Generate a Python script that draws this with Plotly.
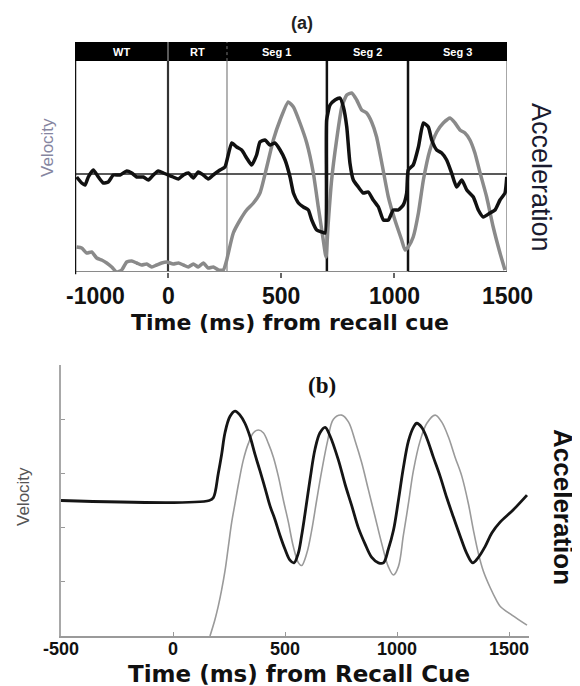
import plotly.graph_objects as go

# page body margin offsets the figure by 8px; figure is sized to fit the window
OFF = 8
W, H = 580 - OFF, 686 - OFF

# ---------------- Panel (a) data (time in ms from recall cue) ----------------
A_ACC_T = [-982, -928, -892, -857, -803, -749, -695, -642, -588, -516,
           -444, -390, -337, -265, -211, -158, -104, -50, 1, 23,
           46, 68, 90, 112, 134, 156, 178, 200, 230, 252,
           282, 304, 326, 348, 370, 392, 407, 429, 451, 473,
           496, 518, 540, 555, 577, 599, 621, 636, 658, 680,
           695, 702, 717, 739, 761, 776, 791, 805, 820, 842,
           864, 886, 908, 931, 953, 975, 997, 1019, 1041, 1056,
           1063, 1085, 1108, 1130, 1152, 1167, 1189, 1211, 1233, 1255,
           1277, 1300, 1322, 1351, 1373, 1395, 1425, 1447, 1469, 1491, 1499]
A_ACC_V = [-3, -9, -11, -3, 4, -3, -9, -8, -1, -1,
           3, 1, -3, -3, -6, -1, 3, 1, -1, -3,
           -5, -1, 1, -4, 2, -1, -5, -1, 4, 7,
           31, 27, 24, 16, 9, 19, 32, 34, 29, 31,
           24, 14, -3, -19, -29, -33, -36, -46, -56, -58,
           -59, 54, 69, 74, 76, 67, 47, 11, -6, -13,
           -19, -18, -26, -33, -46, -46, -36, -36, -31, -19,
           4, 9, 27, 51, 47, 34, 24, 21, 14, 1,
           -13, -6, -16, -23, -36, -43, -39, -36, -26, -19, -3]

A_VEL_T = [-982, -928, -874, -820, -767, -713, -659, -605, -552, -498,
           -444, -390, -337, -283, -229, -175, -122, -68, -14, 23,
           46, 68, 90, 112, 134, 156, 178, 200, 223, 245,
           260, 267, 289, 319, 348, 378, 407, 437, 466, 496,
           532, 555, 584, 614, 643, 665, 687, 699, 709, 724,
           746, 769, 791, 813, 835, 857, 879, 901, 923, 946,
           975, 1004, 1034, 1049, 1063, 1085, 1108, 1130, 1159, 1189,
           1218, 1248, 1270, 1292, 1314, 1336, 1358, 1381, 1410, 1439,
           1469, 1491]
A_VEL_V = [25, 24, 19, 20, 14, 12, 9, 5, 0, 2,
           10, 11, 9, 7, 8, 5, 7, 9, 10, 8,
           9, 7, 5, 8, 5, 9, 4, 5, 2, 2,
           12, 19, 39, 52, 62, 69, 79, 105, 132, 152,
           170, 165, 149, 129, 99, 65, 32, 15, 49, 92,
           132, 165, 177, 179, 172, 162, 159, 150, 135, 109,
           75, 52, 32, 22, 25, 35, 59, 92, 122, 140,
           149, 154, 149, 142, 139, 132, 119, 99, 75, 45,
           19, 2]

SEG_LABELS = ["WT", "RT", "Seg 1", "Seg 2", "Seg 3"]
SEG_BOUNDS = [-1000, 0, 261, 703, 1062, 1500]
TICKS_A = [-1000, 0, 500, 1000, 1500]

# ---------------- Panel (b) data ----------------
B_ACC_T = [-500, 162, 180, 202, 217, 232, 254, 277, 299, 321,
           344, 366, 388, 411, 433, 455, 478, 500, 522, 540,
           559, 574, 589, 612, 634, 656, 679, 700, 738, 768,
           798, 827, 857, 887, 917, 939, 961, 984, 1006, 1028,
           1051, 1073, 1088, 1110, 1133, 1162, 1192, 1222, 1251, 1281,
           1311, 1338, 1363, 1393, 1423, 1460, 1518, 1580]
B_ACC_V = [50, 50, 51, 60, 67, 75, 81, 83, 81.5, 78.5,
           73.5, 67, 61, 54.5, 48, 43, 37, 32, 28, 27,
           30.5, 37, 45, 58, 69, 75, 77, 74, 65, 56,
           48, 40, 34, 29, 27, 27, 32, 39, 50, 62,
           72, 77, 78.5, 77, 73, 66, 59, 51, 44, 37,
           30.5, 27, 29, 33, 38, 42, 46.5, 52]

B_VEL_T = [165, 187, 202, 217, 232, 247, 262, 277, 292, 314,
           336, 359, 381, 403, 426, 448, 470, 493, 515, 537,
           560, 574, 597, 619, 641, 664, 690, 716, 753, 783,
           813, 842, 872, 902, 932, 961, 984, 1006, 1028, 1051,
           1073, 1103, 1133, 1170, 1199, 1229, 1259, 1289, 1318, 1341,
           1363, 1385, 1415, 1445, 1460, 1513, 1580]
B_VEL_V = [0, 6, 11, 17, 24, 33, 42, 49, 56, 65,
           71, 75, 76, 75, 71, 66, 59, 50, 42, 33,
           27, 26, 30.5, 39, 50, 61, 72, 80, 81.5, 79,
           72, 64, 54, 44, 34, 25.6, 22.5, 25.6, 37, 49,
           61, 72, 78.5, 81.5, 79, 73.5, 66, 59, 49, 39,
           30.5, 24, 18, 13, 11, 7.7, 4]

TICKS_B = [-500, 0, 500, 1000, 1500]

# panel (a) time axis is compressed before the cue
K_PRE = 0.4115


def tx(t):
    return t * K_PRE if t < 0 else t


def px(x):
    return (x - OFF) / W


def py(y):
    return 1 - (y - OFF) / H


def label(x, y, text, font, angle=0):
    return dict(x=px(x), y=py(y), xref="paper", yref="paper", text=text, showarrow=False,
                textangle=angle, xanchor="center", yanchor="middle", font=font)


fig = go.Figure()

# Panel (a)
fig.add_trace(go.Scatter(x=[tx(t) for t in A_VEL_T], y=A_VEL_V, mode="lines",
                         line=dict(color="#8a8a8a", width=3.5, shape="spline", smoothing=0.5),
                         xaxis="x", yaxis="y", hoverinfo="skip"))
fig.add_trace(go.Scatter(x=[tx(t) for t in A_ACC_T], y=A_ACC_V, mode="lines",
                         line=dict(color="#111111", width=3.5, shape="spline", smoothing=0.5),
                         xaxis="x", yaxis="y2", hoverinfo="skip"))
# Panel (b)
fig.add_trace(go.Scatter(x=B_VEL_T, y=B_VEL_V, mode="lines",
                         line=dict(color="#9a9a9a", width=1.6, shape="spline"),
                         xaxis="x2", yaxis="y3", hoverinfo="skip"))
fig.add_trace(go.Scatter(x=B_ACC_T, y=B_ACC_V, mode="lines",
                         line=dict(color="#151515", width=2.8, shape="spline"),
                         xaxis="x2", yaxis="y3", hoverinfo="skip"))

xl = tx(TICKS_A[0])
shapes = []
for b, col, w in [(SEG_BOUNDS[1], "#333333", 2.2), (SEG_BOUNDS[2], "#9a9a9a", 1.5),
                  (SEG_BOUNDS[3], "#111111", 2.5), (SEG_BOUNDS[4], "#111111", 2.5)]:
    shapes.append(dict(type="line", xref="x", yref="y domain", x0=tx(b), x1=tx(b), y0=0, y1=1,
                       line=dict(color=col, width=w), layer="below"))
shapes.append(dict(type="line", xref="x", yref="y domain", x0=xl, x1=xl, y0=-0.01, y1=1,
                   line=dict(color="#111111", width=2.5), layer="above"))
shapes.append(dict(type="line", xref="x", yref="y domain", x0=1500, x1=1500, y0=0, y1=1,
                   line=dict(color="#8a8a8a", width=1.5), layer="below"))
shapes.append(dict(type="line", xref="x domain", yref="y2", x0=0, x1=1, y0=0, y1=0,
                   line=dict(color="#222222", width=1.5), layer="below"))
shapes.append(dict(type="line", xref="x domain", yref="y", x0=0, x1=1, y0=0, y1=0,
                   line=dict(color="#8a8a8a", width=2), layer="below"))
shapes.append(dict(type="line", xref="x", yref="y", x0=tx(SEG_BOUNDS[4]), x1=1500, y0=-1, y1=-1,
                   line=dict(color="#111111", width=3), layer="above"))
shapes.append(dict(type="rect", xref="x domain", yref="y domain", x0=0, x1=1, y0=0.917, y1=1.0,
                   fillcolor="#000000", line=dict(width=0), layer="above"))
shapes.append(dict(type="line", xref="x", yref="y domain", x0=tx(SEG_BOUNDS[1]), x1=tx(SEG_BOUNDS[1]),
                   y0=0.917, y1=1, line=dict(color="#777777", width=1.5), layer="above"))
shapes.append(dict(type="line", xref="x", yref="y domain", x0=tx(SEG_BOUNDS[2]), x1=tx(SEG_BOUNDS[2]),
                   y0=0.917, y1=1, line=dict(color="#777777", width=1, dash="dot"), layer="above"))

annotations = []
for i, lab in enumerate(SEG_LABELS):
    mid = (tx(SEG_BOUNDS[i]) + tx(SEG_BOUNDS[i + 1])) / 2
    annotations.append(dict(x=mid, y=0.958, xref="x", yref="y domain", text=lab, showarrow=False,
                            font=dict(family="Arial", size=11, color="white", weight="bold"),
                            xanchor="center", yanchor="middle"))
for i, t in enumerate(TICKS_A):
    annotations.append(dict(x=tx(t), y=py(296), xref="x", yref="paper", text=str(t), showarrow=False,
                            xshift=20 if i == 0 else 0,
                            font=dict(family="Arial", size=23, color="#111111", weight="bold"),
                            xanchor="center", yanchor="middle"))
for t in TICKS_B:
    annotations.append(dict(x=t, y=py(649), xref="x2", yref="paper", text=str(t), showarrow=False,
                            font=dict(family="Arial", size=18, color="#111111", weight="bold"),
                            xanchor="center", yanchor="middle"))
annotations += [
    label(302, 23, "(a)", dict(family="Arial", size=18, color="#222222", weight="bold")),
    label(290, 322, "Time (ms) from recall cue",
          dict(family="DejaVu Sans", size=22, color="#111111", weight="bold")),
    label(47, 148, "Velocity", dict(family="Arial", size=17, color="#8585a0"), -90),
    label(541, 177, "Acceleration", dict(family="Arial", size=27, color="#1a1a2e"), 90),
    label(322, 385, "(b)", dict(family="Liberation Serif", size=23, color="#111111", weight="bold")),
    label(299, 674, "Time (ms) from Recall Cue",
          dict(family="DejaVu Sans", size=23, color="#111111", weight="bold")),
    label(23, 497, "Velocity", dict(family="Arial", size=17, color="#555555"), -90),
    label(563, 507, "Acceleration", dict(family="Arial", size=26, color="#111111", weight="bold"), 90),
]

fig.update_layout(
    template="none",
    width=W, height=H, autosize=False,
    margin=dict(l=0, r=0, t=0, b=0, pad=0, autoexpand=False),
    paper_bgcolor="white", plot_bgcolor="white",
    showlegend=False,
    shapes=shapes, annotations=annotations,
    xaxis=dict(domain=[px(75), px(507)], range=[xl, 1500], anchor="y", automargin=False,
               showgrid=False, zeroline=False, showline=False,
               tickvals=[tx(t) for t in TICKS_A[1:4]], ticks="outside", ticklen=5,
               tickcolor="#666666", tickwidth=1.5, showticklabels=False),
    yaxis=dict(domain=[py(272), py(42)], range=[0, 230], visible=False, automargin=False),
    yaxis2=dict(overlaying="y", range=[-98, 132], visible=False, automargin=False),
    xaxis2=dict(domain=[px(61), px(529)], range=[-500, 1589], anchor="y3", automargin=False,
                showgrid=False, zeroline=False, showline=True, linecolor="#9a9a9a", linewidth=2,
                ticks="inside", ticklen=4, tickcolor="#999999",
                tickvals=TICKS_B, showticklabels=False),
    yaxis3=dict(domain=[py(636), py(365)], range=[0, 100], anchor="x2", automargin=False,
                showgrid=False, zeroline=False, showline=True, linecolor="#a8a8a8", linewidth=2,
                ticks="inside", ticklen=4, tickcolor="#999999",
                tickvals=[0, 20, 40, 60, 80, 100], showticklabels=False),
)

fig.write_html("out.html")
